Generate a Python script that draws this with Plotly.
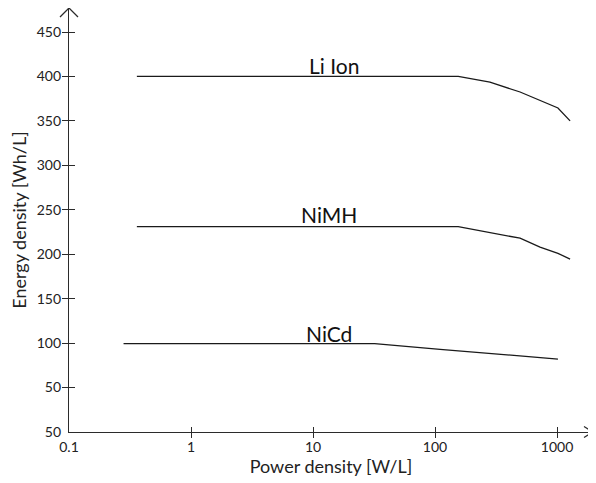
import math
import plotly.graph_objects as go

# Data
li_x = [0.36, 155, 282, 498, 1018, 1280]
li_y = [400, 400, 393.5, 382.5, 364.5, 350]
nimh_x = [0.36, 155, 498, 726, 1018, 1280]
nimh_y = [231, 231, 218, 208, 201, 194.5]
nicd_x = [0.28, 32, 110, 1018]
nicd_y = [99.5, 99.5, 93, 82]

series_names = ["Li Ion", "NiMH", "NiCd"]
label_x = [15, 13.5, 13.5]
label_y = [412, 245, 111]

x_tickvals = [0.1, 1, 10, 100, 1000]
x_ticktext = ["0.1", "1", "10", "100", "1000"]
y_tickvals = [0, 50, 100, 150, 200, 250, 300, 350, 400, 450]
y_ticktext = ["50", "50", "100", "150", "200", "250", "300", "350", "400", "450"]

FONT = "Lato"
AX = "#2b2b2b"
LINE = "#1a1a1a"
TXT = "#222"

fig = go.Figure()
for xs, ys in [(li_x, li_y), (nimh_x, nimh_y), (nicd_x, nicd_y)]:
    fig.add_trace(go.Scatter(x=xs, y=ys, mode="lines",
                             line=dict(color=LINE, width=1.3),
                             showlegend=False, hoverinfo="skip"))
# invisible trace for overlay axes
fig.add_trace(go.Scatter(x=[1], y=[100], xaxis="x2", yaxis="y2", mode="markers",
                         marker=dict(opacity=0), showlegend=False, hoverinfo="skip"))

for name, lx, ly in zip(series_names, label_x, label_y):
    fig.add_annotation(x=math.log10(lx), y=ly, xref="x", yref="y", text=name, showarrow=False,
                       font=dict(family=FONT, size=21, color="#111"))

xr = [-1, 3.295]
yr = [0, 477]

# page body has an 8px default margin: figure is offset by 8px in the window
FW, FH = 588, 475
ML, MR, MT, MB = 61, 3, 0, 51

fig.update_layout(
    width=FW, height=FH,
    margin=dict(l=ML, r=MR, t=MT, b=MB),
    paper_bgcolor="white", plot_bgcolor="white",
    font=dict(family=FONT, color=TXT),
    xaxis=dict(type="log", range=xr, tickvals=x_tickvals, ticktext=x_ticktext,
               ticks="inside", ticklen=5, tickcolor=AX, tickwidth=1.3,
               showline=True, linecolor=AX, linewidth=1.3, showgrid=False, zeroline=False,
               tickfont=dict(family=FONT, size=14, color=TXT),
               ticklabelstandoff=2, automargin=False,
               title=dict(text="Power density [W/L]", font=dict(family=FONT, size=18, color=TXT),
                          standoff=3)),
    yaxis=dict(range=yr, tickvals=y_tickvals, ticktext=y_ticktext,
               ticks="inside", ticklen=6, tickcolor=AX, tickwidth=1.3,
               showline=True, linecolor=AX, linewidth=1.3, showgrid=False, zeroline=False,
               tickfont=dict(family=FONT, size=14, color=TXT),
               ticklabelstandoff=4, automargin=False,
               title=dict(text="Energy density [Wh/L]", font=dict(family=FONT, size=18, color=TXT),
                          standoff=8)),
    xaxis2=dict(type="log", range=xr, overlaying="x", anchor="y2", side="bottom",
                tickvals=x_tickvals[1:], ticks="outside", ticklen=5, tickcolor=AX, tickwidth=1.3,
                showticklabels=False, showline=False, showgrid=False, zeroline=False,
                automargin=False),
    yaxis2=dict(range=yr, overlaying="y", anchor="x2", side="left",
                tickvals=y_tickvals[1:], ticks="outside", ticklen=6, tickcolor=AX, tickwidth=1.3,
                showticklabels=False, showline=False, showgrid=False, zeroline=False,
                automargin=False),
)

# axis arrowheads (open chevrons) in paper coords (window px -> paper)
W = FW - ML - MR
H = FH - MT - MB
def px(x): return (x - 69) / W
def py(y): return (432 - y) / H
fig.add_shape(type="path", xref="paper", yref="paper",
              path=f"M {px(584)} {py(426.5)} L {px(593)} {py(432)} L {px(584)} {py(437.5)}",
              line=dict(color=AX, width=1.3))
fig.add_shape(type="path", xref="paper", yref="paper",
              path=f"M {px(60)} {py(17)} L {px(69)} {py(8)} L {px(78)} {py(17)}",
              line=dict(color=AX, width=1.3))

fig.write_html("out.html")
